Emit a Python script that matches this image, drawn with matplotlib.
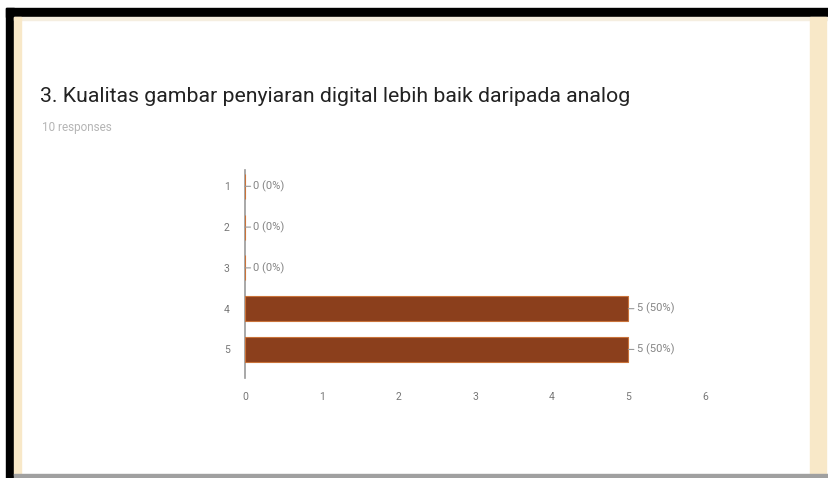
import matplotlib.pyplot as plt
from matplotlib.patches import Rectangle

# Survey answers (scale 1-5) and number of responses per answer
categories = [1, 2, 3, 4, 5]
counts = [0, 0, 0, 5, 5]
total = 10
x_ticks = [0, 1, 2, 3, 4, 5, 6]

title = "3. Kualitas gambar penyiaran digital lebih baik daripada analog"
subtitle = f"{total} responses"

plt.rcParams['font.family'] = ['Roboto', 'DejaVu Sans']

fig = plt.figure(figsize=(8.29, 4.78), dpi=100)
fig.patch.set_facecolor('white')

# window frame: black top and left edge, pale card edges
W, H = 829, 478
def frame(x, y, w, h, color):
    fig.patches.append(Rectangle((x / W, 1 - (y + h) / H), w / W, h / H,
                                 transform=fig.transFigure, color=color,
                                 zorder=0))

frame(6, 8, 823, 9, 'black')
frame(6, 8, 8, 470, 'black')
frame(14, 17, 815, 3, '#f5eee0')
frame(14, 17, 7, 458, '#f8e8c8')
frame(810, 17, 16, 458, '#f8e8c8')
frame(14, 474, 815, 4, '#a0a0a0')

fig.text(40 / W, 1 - 97 / H, title, fontsize=15.3, color='#222222',
         va='center', ha='left')
fig.text(42 / W, 1 - 127 / H, subtitle, fontsize=8.5, color='#b5b5b5',
         va='center', ha='left')

ax = fig.add_axes([245 / W, 1 - 378 / H, 460 / W, 208 / H])
ax.set_facecolor('none')

ax.barh(categories, counts, height=0.61, color='#8b3f1c',
        edgecolor='#c9733a', linewidth=0.8, zorder=3)

for cat, n in zip(categories, counts):
    pct = round(100 * n / total)
    ax.annotate(f"{n} ({pct}%)", xy=(n, cat), xytext=(6, 0),
                textcoords='offset points', va='center', ha='left',
                fontsize=8, color='#858585',
                arrowprops=dict(arrowstyle='-', color='#999999', lw=0.8,
                                shrinkA=0, shrinkB=0))

ax.set_xlim(x_ticks[0], x_ticks[-1])
ax.set_ylim(5.7, 0.6)
ax.set_xticks(x_ticks)
ax.set_yticks(categories)
ax.tick_params(length=0, labelsize=7.5, colors='#777777', pad=11)
ax.tick_params(axis='x', pad=10)

for side in ['top', 'right', 'bottom']:
    ax.spines[side].set_visible(False)
ax.spines['left'].set_color('#999999')
ax.spines['left'].set_linewidth(1.2)

fig.savefig('out.png', dpi=100)
